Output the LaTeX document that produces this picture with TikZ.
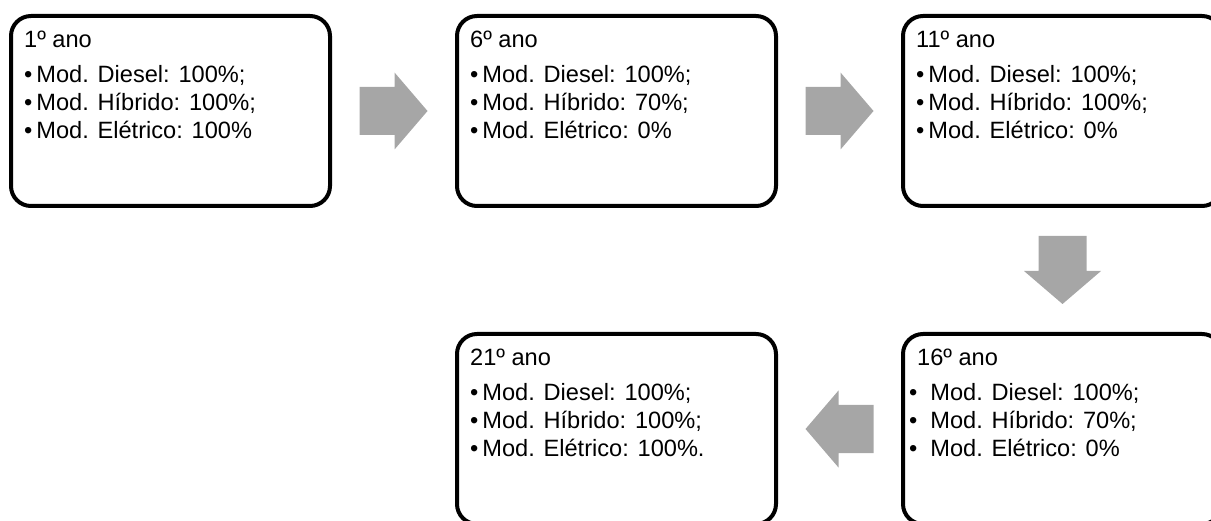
\documentclass[tikz,border=0pt]{standalone}
\usepackage{fontspec}
\setmainfont{Liberation Sans}
\usetikzlibrary{positioning,calc}
\definecolor{arrowgray}{RGB}{166,166,166}
\newcommand{\itm}{\textbullet\hspace{4pt}}
\newcommand{\itmwide}{\hspace*{-8pt}\textbullet\hspace{13pt}}

\begin{document}
\begin{tikzpicture}[
    x=1pt, y=-1pt,
    node distance=128pt and 127pt,
    yearbox/.style={rectangle, rounded corners=20pt, draw=black, line width=4pt, outer sep=0pt,
                    inner sep=0pt, minimum width=319pt, minimum height=190pt},
    yeartext/.style={anchor=north west, align=left, inner sep=0pt,
                     font=\fontsize{23.6}{28}\selectfont},
    blockarrow/.pic={\fill[arrowgray] (-34,-24) -- (1,-24) -- (1,-38.5) -- (34,0)
                     -- (1,38.5) -- (1,24) -- (-34,24) -- cycle;}
]
\useasboundingbox (0,0) rectangle (1211,521);
\node[yearbox, anchor=north west] (y1) at (11,16) {};
\node[yearbox, right=of y1] (y6) {};
\node[yearbox, right=of y6] (y11) {};
\node[yearbox, below=of y11] (y16) {};
\node[yearbox, left=of y16] (y21) {};
\node[yeartext] (t1) at ($(y1.north west)+(13,15)$)
    {1º ano\\[7pt] \itm Mod. Diesel: 100\%;\\ \itm Mod. Híbrido: 100\%;\\ \itm Mod. Elétrico: 100\%};
\node[yeartext] (t6) at ($(y6.north west)+(13,15)$)
    {6º ano\\[7pt] \itm Mod. Diesel: 100\%;\\ \itm Mod. Híbrido: 70\%;\\ \itm Mod. Elétrico: 0\%};
\node[yeartext] (t11) at ($(y11.north west)+(13,15)$)
    {11º ano\\[7pt] \itm Mod. Diesel: 100\%;\\ \itm Mod. Híbrido: 100\%;\\ \itm Mod. Elétrico: 0\%};
\node[yeartext] (t16) at ($(y16.north west)+(14,15)$)
    {16º ano\\[7pt] \itmwide Mod. Diesel: 100\%;\\ \itmwide Mod. Híbrido: 70\%;\\ \itmwide Mod. Elétrico: 0\%};
\node[yeartext] (t21) at ($(y21.north west)+(13,15)$)
    {21º ano\\[7pt] \itm Mod. Diesel: 100\%;\\ \itm Mod. Híbrido: 100\%;\\ \itm Mod. Elétrico: 100\%.};
% block arrows between the years
\pic at ($(y1.east)!0.5!(y6.west)$) {blockarrow};
\pic at ($(y6.east)!0.5!(y11.west)$) {blockarrow};
\pic[rotate=-90] at ($(y11.south)!0.5!(y16.north)$) {blockarrow};
\pic[rotate=180] at ($(y16.west)!0.5!(y21.east)$) {blockarrow};
\end{tikzpicture}
\end{document}
